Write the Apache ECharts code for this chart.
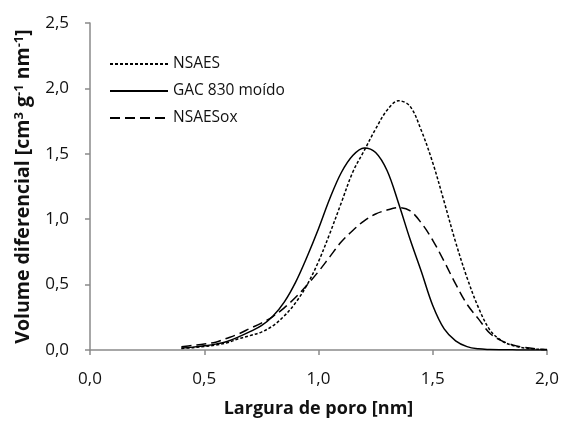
<!DOCTYPE html>
<html>
<head>
<meta charset="utf-8">
<script src="https://cdn.jsdelivr.net/npm/echarts@6/dist/echarts.min.js"></script>
<style>
  html, body { margin: 0; padding: 0; background: #fff; }
  #chart { width: 563px; height: 423px; }
</style>
</head>
<body>
<div id="chart"></div>
<script>
// Pore width (nm)
const poreWidth = [0.40, 0.45, 0.50, 0.55, 0.60, 0.65, 0.70, 0.75, 0.80, 0.85,
                   0.90, 0.95, 1.00, 1.05, 1.10, 1.15, 1.20, 1.25, 1.30, 1.35,
                   1.40, 1.45, 1.50, 1.55, 1.60, 1.65, 1.70, 1.75, 1.80, 1.85,
                   1.90, 1.95, 2.00];

// Differential volume (cm3 g-1 nm-1)
const nsaes = [0.012, 0.018, 0.027, 0.038, 0.055, 0.086, 0.110, 0.137, 0.185, 0.260,
               0.362, 0.498, 0.676, 0.893, 1.127, 1.360, 1.525, 1.690, 1.833, 1.906,
               1.865, 1.678, 1.432, 1.133, 0.825, 0.553, 0.324, 0.153, 0.072, 0.034,
               0.016, 0.007, 0.002];
const gac = [0.015, 0.022, 0.032, 0.045, 0.065, 0.100, 0.140, 0.186, 0.258, 0.366,
             0.519, 0.713, 0.927, 1.160, 1.357, 1.487, 1.545, 1.510, 1.372, 1.124,
             0.850, 0.600, 0.340, 0.161, 0.070, 0.026, 0.009, 0.004, 0.002, 0.001,
             0.000, 0.000, 0.000];
const nsaesox = [0.025, 0.035, 0.045, 0.060, 0.090, 0.123, 0.165, 0.206, 0.256, 0.322,
                 0.403, 0.497, 0.600, 0.714, 0.827, 0.914, 0.988, 1.040, 1.070, 1.088,
                 1.065, 0.971, 0.839, 0.677, 0.505, 0.350, 0.238, 0.128, 0.072, 0.039,
                 0.020, 0.009, 0.003];

const xTicks = { min: 0, max: 2.0, step: 0.5 };
const yTicks = { min: 0, max: 2.5, step: 0.5 };

const seriesNames = ['NSAES', 'GAC 830 moído', 'NSAESox'];

const pairs = ys => poreWidth.map((x, i) => [x, ys[i]]);
const comma = v => v.toFixed(1).replace('.', ',');

const FONT = '"Open Sans", Lato, sans-serif';
const AXIS_GREY = '#8a8a8a';

const chart = echarts.init(document.getElementById('chart'), null, { renderer: 'canvas' });

const axisCommon = {
  type: 'value',
  splitLine: { show: false },
  axisLine: { show: true, lineStyle: { color: AXIS_GREY, width: 1.5 } },
  axisTick: { show: true, inside: false, length: 5, lineStyle: { color: AXIS_GREY, width: 1.5 } },
  axisLabel: { color: '#111', fontFamily: FONT, fontSize: 17, formatter: comma, margin: 21 },
  nameLocation: 'middle'
};

chart.setOption({
  animation: false,
  backgroundColor: '#fff',
  grid: { left: 90, right: 16, top: 23, bottom: 73, containLabel: false },
  legend: {
    orient: 'vertical',
    left: 104,
    top: 51,
    itemWidth: 58,
    itemHeight: 14,
    itemGap: 11,
    itemStyle: { opacity: 0 },
    textStyle: { color: '#111', fontFamily: FONT, fontSize: 15.5 },
    data: seriesNames
  },
  xAxis: Object.assign({}, axisCommon, {
    min: xTicks.min, max: xTicks.max, interval: xTicks.step,
    name: 'Largura de poro [nm]',
    nameGap: 50,
    nameTextStyle: { color: '#111', fontFamily: FONT, fontSize: 18, fontWeight: 'bold' }
  }),
  yAxis: Object.assign({}, axisCommon, {
    min: yTicks.min, max: yTicks.max, interval: yTicks.step,
    name: 'Volume diferencial [cm{sup|3} g{sup|-1} nm{sup|-1}]',
    nameGap: 57,
    nameRotate: 90,
    nameTextStyle: {
      color: '#111', fontFamily: FONT, fontSize: 19.5, fontWeight: 'bold',
      rich: {
        sup: { fontFamily: FONT, fontSize: 13, fontWeight: 'bold', color: '#111',
               verticalAlign: 'top', lineHeight: 17 }
      }
    }
  }),
  series: [
    {
      name: seriesNames[0], type: 'line', data: pairs(nsaes), smooth: 0.35,
      symbol: 'none', lineStyle: { color: '#000', width: 1.5, type: [3, 2] },
      itemStyle: { color: '#000' }
    },
    {
      name: seriesNames[1], type: 'line', data: pairs(gac), smooth: 0.35,
      symbol: 'none', lineStyle: { color: '#000', width: 1.5, type: 'solid' },
      itemStyle: { color: '#000' }
    },
    {
      name: seriesNames[2], type: 'line', data: pairs(nsaesox), smooth: 0.35,
      symbol: 'none', lineStyle: { color: '#000', width: 1.5, type: [10, 5] },
      itemStyle: { color: '#000' }
    }
  ]
});
</script>
</body>
</html>
